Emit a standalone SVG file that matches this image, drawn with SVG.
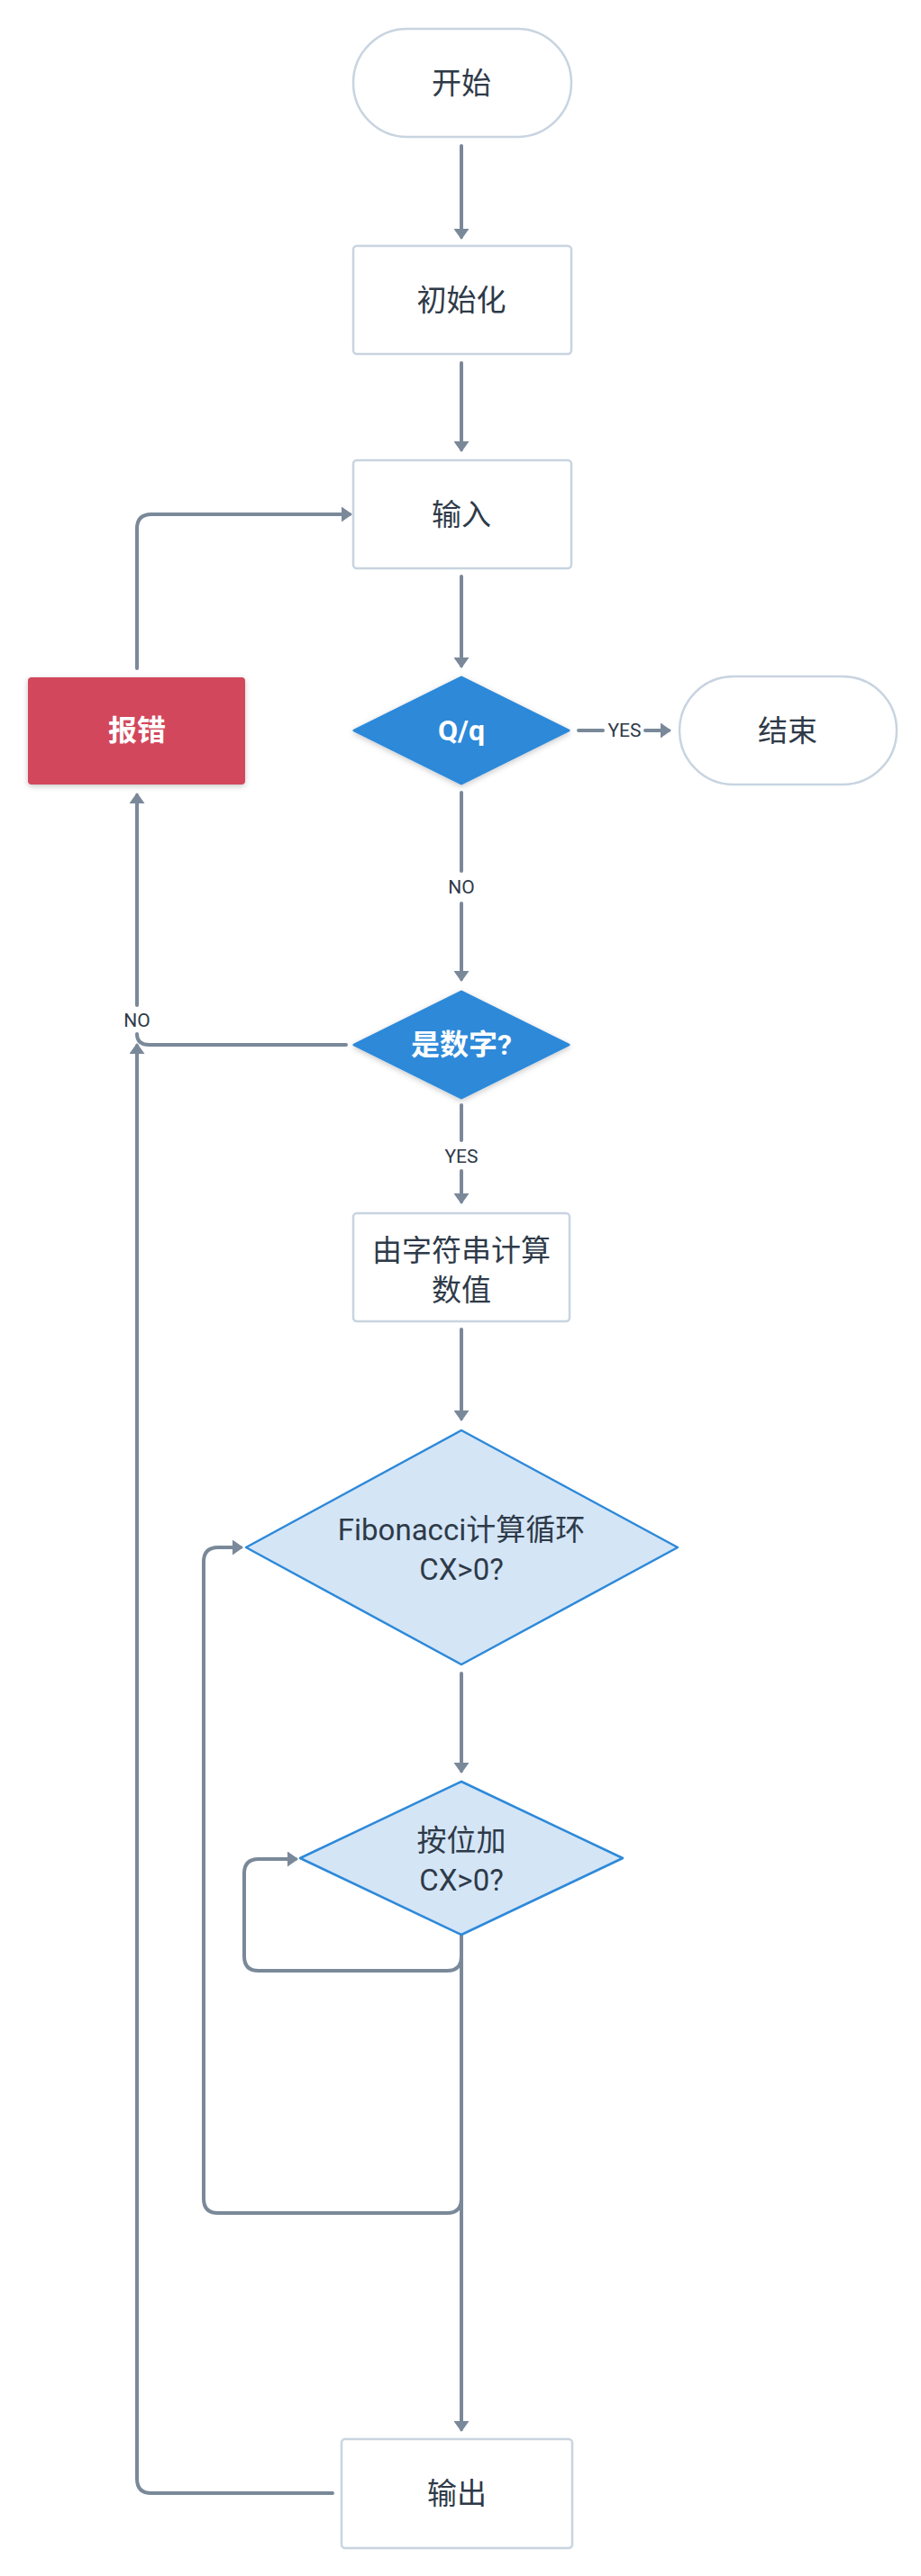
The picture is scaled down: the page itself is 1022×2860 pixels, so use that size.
<svg xmlns="http://www.w3.org/2000/svg" width="1022" height="2860" viewBox="0 0 1022 2860">
  <style>
    .box { fill: #ffffff; stroke: #C8D4E0; stroke-width: 2.5; }
    .decide { fill: #2D89D9; }
    .loop { fill: #D4E5F6; stroke: #2D89D9; stroke-width: 2.5; stroke-linejoin: round; }
    .err { fill: #D2465B; }
    .lbl { font-family: Roboto, "Noto Sans CJK SC", sans-serif; font-size: 33px; fill: #2E3A48; text-anchor: middle; dominant-baseline: central; }
    .lbl-w { font-family: Roboto, "Noto Sans CJK SC", sans-serif; font-size: 32px; font-weight: bold; fill: #ffffff; text-anchor: middle; dominant-baseline: central; }
    .edge { fill: none; stroke: #7A8999; stroke-width: 4; stroke-linecap: round; stroke-linejoin: round; }
    .elbl { font-family: Roboto, "Noto Sans CJK SC", sans-serif; font-size: 21px; fill: #2E3A48; text-anchor: middle; dominant-baseline: central; }
  </style>
  <defs>
    <marker id="arrow" viewBox="0 0 12 17" refX="9" refY="8.5" markerWidth="12" markerHeight="17" markerUnits="userSpaceOnUse" orient="auto">
      <path d="M0,0 L12,8.5 L0,17 Z" fill="#7A8999"/>
    </marker>
    <filter id="shadow" x="-20%" y="-20%" width="140%" height="150%">
      <feDropShadow dx="0" dy="2" stdDeviation="3" flood-color="#000000" flood-opacity="0.22"/>
    </filter>
  </defs>

  <!-- connectors -->
  <g id="connectors">
    <path class="edge" d="M512,162 L512,263" marker-end="url(#arrow)"/>
    <path class="edge" d="M512,403 L512,499" marker-end="url(#arrow)"/>
    <path class="edge" d="M512,640 L512,739" marker-end="url(#arrow)"/>
    <!-- Q/q YES -> end -->
    <path class="edge" d="M642,811 L669,811"/>
    <text class="elbl" x="693" y="811">YES</text>
    <path class="edge" d="M716,811 L742,811" marker-end="url(#arrow)"/>
    <!-- Q/q NO -> is number -->
    <path class="edge" d="M512,880 L512,967"/>
    <text class="elbl" x="512" y="985">NO</text>
    <path class="edge" d="M512,1003 L512,1087" marker-end="url(#arrow)"/>
    <!-- is number YES -> convert -->
    <path class="edge" d="M512,1227 L512,1266"/>
    <text class="elbl" x="512" y="1284">YES</text>
    <path class="edge" d="M512,1300 L512,1334" marker-end="url(#arrow)"/>
    <!-- convert -> fibonacci loop -->
    <path class="edge" d="M512,1476 L512,1575" marker-end="url(#arrow)"/>
    <!-- fibonacci -> bitwise add -->
    <path class="edge" d="M512,1858 L512,1966" marker-end="url(#arrow)"/>
    <!-- bitwise add self loop -->
    <path class="edge" d="M512,2148 L512,2172 Q512,2188 496,2188 L287,2188 Q271,2188 271,2172 L271,2080 Q271,2064 287,2064 L328,2064" marker-end="url(#arrow)"/>
    <!-- back to fibonacci loop -->
    <path class="edge" d="M512,2148 L512,2441 Q512,2457 496,2457 L242,2457 Q226,2457 226,2441 L226,1734 Q226,1718 242,1718 L267,1718" marker-end="url(#arrow)"/>
    <!-- bitwise add -> output -->
    <path class="edge" d="M512,2148 L512,2697" marker-end="url(#arrow)"/>
    <!-- output back up -->
    <path class="edge" d="M369,2768 L168,2768 Q152,2768 152,2752 L152,1161" marker-end="url(#arrow)"/>
    <!-- is number NO -> error -->
    <path class="edge" d="M384,1160 L166,1160 Q152,1160 152,1148"/>
    <text class="elbl" x="152" y="1133">NO</text>
    <path class="edge" d="M152,1116 L152,883" marker-end="url(#arrow)"/>
    <!-- error -> input -->
    <path class="edge" d="M152,742 L152,587 Q152,571 168,571 L388,571" marker-end="url(#arrow)"/>
  </g>

  <g id="start">
    <rect class="box" x="392" y="32" width="242" height="120" rx="60" ry="60"/>
    <text class="lbl" x="512" y="92">开始</text>
  </g>
  <g id="init">
    <rect class="box" x="392" y="273" width="242" height="120" rx="4"/>
    <text class="lbl" x="512" y="333">初始化</text>
  </g>
  <g id="input">
    <rect class="box" x="392" y="511" width="242" height="120" rx="4"/>
    <text class="lbl" x="512" y="571">输入</text>
  </g>
  <g id="quit-check">
    <path class="decide" filter="url(#shadow)" d="M512,752 L631,811 L512,870 L393,811 Z" stroke="#2D89D9" stroke-width="3" stroke-linejoin="round"/>
    <text class="lbl-w" x="512" y="811" font-size="30">Q/q</text>
  </g>
  <g id="end">
    <rect class="box" x="754" y="751" width="241" height="120" rx="60" ry="60"/>
    <text class="lbl" x="874" y="811">结束</text>
  </g>
  <g id="error">
    <rect class="err" filter="url(#shadow)" x="31" y="752" width="241" height="119" rx="4"/>
    <text class="lbl-w" x="152" y="811">报错</text>
  </g>
  <g id="is-number">
    <path class="decide" filter="url(#shadow)" d="M512,1101 L631,1160 L512,1219 L393,1160 Z" stroke="#2D89D9" stroke-width="3" stroke-linejoin="round"/>
    <text class="lbl-w" x="512" y="1160">是数字?</text>
  </g>
  <g id="convert">
    <rect class="box" x="392" y="1347" width="240" height="120" rx="4"/>
    <text class="lbl" x="512" y="1388">由字符串计算</text>
    <text class="lbl" x="512" y="1432">数值</text>
  </g>
  <g id="fib-loop">
    <path class="loop" d="M512,1588 L752,1718 L512,1848 L273,1718 Z"/>
    <text class="lbl" x="512" y="1698">Fibonacci计算循环</text>
    <text class="lbl" x="512" y="1742">CX&gt;0?</text>
  </g>
  <g id="add-loop">
    <path class="loop" d="M512,1978 L691,2063 L512,2148 L333,2063 Z"/>
    <text class="lbl" x="512" y="2043">按位加</text>
    <text class="lbl" x="512" y="2087">CX&gt;0?</text>
  </g>
  <g id="output">
    <rect class="box" x="379" y="2708" width="256" height="121" rx="4"/>
    <text class="lbl" x="507" y="2768">输出</text>
  </g>
</svg>
